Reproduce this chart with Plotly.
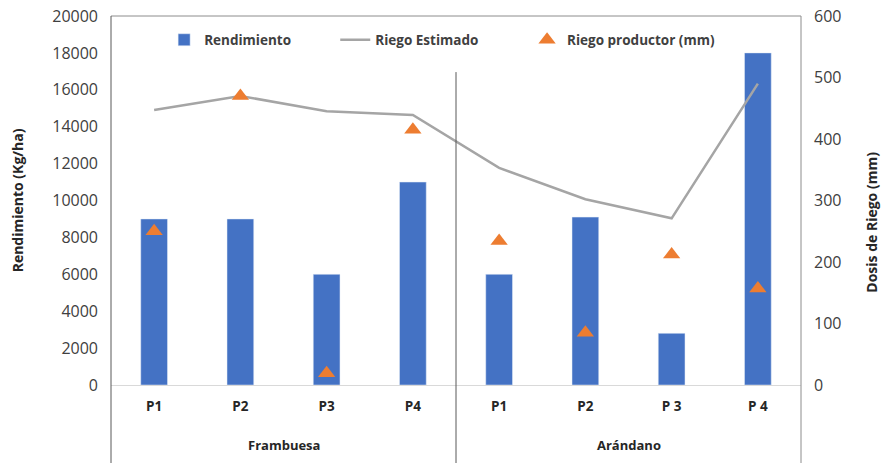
import plotly.graph_objects as go

grupos = ["Frambuesa", "Arándano"]
parcelas = ["P1", "P2", "P3", "P4", "P1", "P2", "P 3", "P 4"]

rendimiento = [9000, 9000, 6000, 11000, 6000, 9100, 2800, 18000]
riego_estimado = [447, 470, 445, 439, 353, 302, 271, 490]
riego_productor = [250, 470, 19, 415, 234, 85, 212, 157]

AZUL = "#4472C4"
GRIS = "#A5A5A5"
NARANJA = "#ED7D31"
TEXTO = "#404040"
FUENTE = "Open Sans"

# posiciones de categoria (una por parcela)
x = list(range(len(parcelas)))
n_grupo = len(parcelas) // len(grupos)

fig = go.Figure()

fig.add_trace(go.Bar(
    x=x, y=rendimiento, name="Rendimiento",
    marker=dict(color=AZUL), width=0.31,
    legend="legend2",
))
fig.add_trace(go.Scatter(
    x=x, y=riego_estimado, name="Riego Estimado", mode="lines",
    line=dict(color=GRIS, width=2.5), yaxis="y2",
    legend="legend3",
))
fig.add_trace(go.Scatter(
    x=x, y=riego_productor, name="Riego productor (mm)", mode="markers",
    marker=dict(symbol="triangle-up", size=15, color=NARANJA), yaxis="y2",
    legend="legend4",
))

leyenda = dict(
    orientation="h", yanchor="middle", xanchor="left", y=0.935,
    bgcolor="rgba(0,0,0,0)",
    font=dict(family=FUENTE, size=13.5, color=TEXTO, weight="bold"),
)

lineas = [
    # marco superior y derecho
    dict(x0=0, x1=1, y0=1, y1=1, color="#8C8C8C"),
    dict(x0=1, x1=1, y0=-0.3, y1=1, color="#8C8C8C"),
    # eje izquierdo extendido
    dict(x0=0, x1=0, y0=-0.3, y1=1, color="#595959"),
    # separador de grupos
    dict(x0=0.5, x1=0.5, y0=-0.3, y1=0.848, color="#595959"),
]

anotaciones = [
    dict(text="Rendimiento (Kg/ha)", xref="paper", yref="paper",
         x=-0.135, y=0.5, xanchor="center", yanchor="middle",
         textangle=-90, showarrow=False,
         font=dict(family=FUENTE, size=14, color="#262626", weight="bold")),
    dict(text="Dosis de Riego (mm)", xref="paper", yref="paper",
         x=1.103, y=0.44, xanchor="center", yanchor="middle",
         textangle=-90, showarrow=False,
         font=dict(family=FUENTE, size=14, color="#262626", weight="bold")),
]
for i, g in enumerate(grupos):
    anotaciones.append(dict(
        text=g, xref="x", yref="paper",
        x=i * n_grupo + (n_grupo - 1) / 2, y=-0.162,
        xanchor="center", yanchor="middle", showarrow=False,
        font=dict(family=FUENTE, size=13, color="#262626", weight="bold"),
    ))

fig.update_layout(
    width=883, height=463,
    margin=dict(l=111, r=82, t=16, b=78, autoexpand=False),
    plot_bgcolor="white", paper_bgcolor="white",
    font=dict(family=FUENTE, color=TEXTO),
    showlegend=True,
    xaxis=dict(
        range=[-0.5, len(parcelas) - 0.5],
        tickvals=x, ticktext=parcelas,
        showline=True, linecolor="#D9D9D9", linewidth=1,
        ticks="", showgrid=False, zeroline=False, automargin=False,
        ticklabelstandoff=9,
        tickfont=dict(family=FUENTE, size=13.5, color="#262626", weight="bold"),
    ),
    yaxis=dict(
        range=[0, 20000], dtick=2000, tickformat="d",
        showgrid=False, zeroline=False, automargin=False,
        ticklabelstandoff=12,
        tickfont=dict(size=16, color=TEXTO), ticks="",
    ),
    yaxis2=dict(
        range=[0, 600], dtick=100, overlaying="y", side="right",
        showgrid=False, zeroline=False, automargin=False,
        ticklabelstandoff=12,
        tickfont=dict(size=16, color=TEXTO), ticks="",
    ),
    legend2=dict(leyenda, x=0.077),
    legend3=dict(leyenda, x=0.325),
    legend4=dict(leyenda, x=0.603),
    shapes=[
        dict(type="line", xref="paper", yref="paper",
             x0=l["x0"], x1=l["x1"], y0=l["y0"], y1=l["y1"],
             line=dict(color=l["color"], width=1))
        for l in lineas
    ],
    annotations=anotaciones,
)

# sin margen del body para que la figura ocupe la ventana exacta
fig.write_html(
    "out.html",
    config={"displayModeBar": False},
    post_script="document.body.style.margin='0';",
)
